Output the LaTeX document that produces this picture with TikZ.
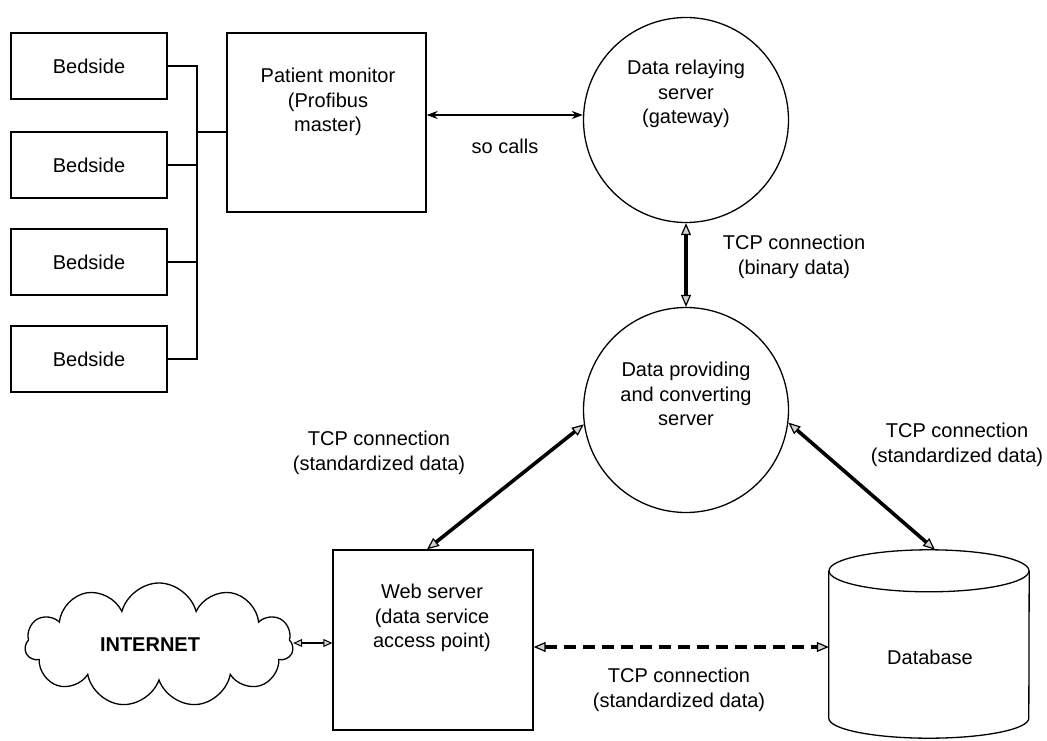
\documentclass[tikz,border=0pt]{standalone}
\usepackage{fontspec}
\setmainfont{Liberation Sans}
\usetikzlibrary{shapes.symbols,arrows.meta,calc}
\begin{document}
\begin{tikzpicture}[x=1pt,y=-1pt,
  font=\fontsize{20}{24.5}\selectfont,
  box/.style={draw, line width=1.3pt, inner sep=0pt},
  txt/.style={align=center, inner sep=0pt},
  tcp/.style={line width=3.6pt,
     {Triangle[length=12pt,width=10pt,fill=gray!35,line width=1.2pt]}-{Triangle[length=12pt,width=10pt,fill=gray!35,line width=1.2pt]}},
  thinarr/.style={line width=1.5pt, {Stealth[length=11pt,width=8pt]}-{Stealth[length=11pt,width=8pt]}},
  netarr/.style={line width=2.6pt,
     {Triangle[length=9pt,width=8pt,fill=gray!35,line width=1pt]}-{Triangle[length=9pt,width=8pt,fill=gray!35,line width=1pt]}},
  bus/.style={line width=1.3pt}]
\useasboundingbox (0,0) rectangle (1047,741);
\fill[white] (0,0) rectangle (1047,741);

% Bedside boxes
\node[box, minimum width=156pt, minimum height=66pt] (b1) at (89,66) {Bedside};
\node[box, minimum width=156pt, minimum height=66pt] (b2) at (89,165) {Bedside};
\node[box, minimum width=156pt, minimum height=66pt] (b3) at (89,262) {Bedside};
\node[box, minimum width=156pt, minimum height=66pt] (b4) at (89,359) {Bedside};

% Patient monitor
\node[box, minimum width=199pt, minimum height=179pt] (mon) at (326.5,122.5) {};
\node[txt] (montxt) at (328,102) {Patient monitor\\(Profibus\\master)};

% bus
\coordinate (busx) at (197,132);
\draw[bus] (b1.east) -- (b1.east -| busx) -- (b4.east -| busx) -- (b4.east);
\draw[bus] (b2.east) -- (b2.east -| busx);
\draw[bus] (b3.east) -- (b3.east -| busx);
\draw[bus] (busx) -- (busx -| mon.west);

% Servers
\node[circle, draw, line width=1.3pt, minimum size=205pt, inner sep=0pt] (relay) at (686,120) {};
\node[txt] (relaytxt) at (686,94) {Data relaying\\server\\(gateway)};
\node[circle, draw, line width=1.3pt, minimum size=205pt, inner sep=0pt] (prov) at (686,410) {};
\node[txt] (provtxt) at (686,394) {Data providing\\and converting\\server};

% Web server
\node[box, minimum width=200pt, minimum height=180pt] (web) at (433,640) {};
\node[txt] (webtxt) at (432,618) {Web server\\(data service\\access point)};

% Cloud
\node[cloud, draw, line width=1.3pt, cloud puffs=11, aspect=2.2, minimum width=268pt, minimum height=124pt, inner sep=0pt] (cloud) at (159,645) {};
\node[txt, font=\fontsize{20}{24.5}\selectfont\bfseries] (nettxt) at (150,645) {INTERNET};

% Database
\node[minimum width=200pt, minimum height=188pt, inner sep=0pt] (db) at (929,644) {};
\draw[line width=1.3pt] ($(db.north)+(0,21)$) ellipse [x radius=100pt, y radius=21pt];
\draw[line width=1.3pt] ($(db.north west)+(0,21)$) -- ($(db.south west)+(0,-20)$)
   arc[start angle=180, end angle=360, x radius=100pt, y radius=20pt]
   -- ($(db.north east)+(0,21)$);
\node[txt] (dbtxt) at (930,657) {Database};

% Connectors
\draw[thinarr] ([yshift=5pt]mon.east |- relay.west) -- ([yshift=5pt]relay.west);
\node[txt] (socalls) at (505,146) {so calls};

\draw[tcp] (relay.south) -- (prov.north);
\node[txt] (lbin) at (794,257) {TCP connection\\(binary data)};

\draw[tcp] ([xshift=-6pt]web.north) -- (prov.188);
\node[txt] (lleft) at (379,453) {TCP connection\\(standardized data)};

\draw[tcp] (prov.353) -- ([xshift=6pt]db.north);
\node[txt] (lright) at (957,445) {TCP connection\\(standardized data)};

\draw[tcp, dash pattern=on 12pt off 7pt] ([yshift=-7pt]web.east) -- ([yshift=-7pt]web.east -| db.west);
\node[txt] (lbottom) at (679,690) {TCP connection\\(standardized data)};

\draw[netarr] ([yshift=2pt]cloud.east) -- ([yshift=2pt]cloud.east -| web.west);
\end{tikzpicture}
\end{document}
